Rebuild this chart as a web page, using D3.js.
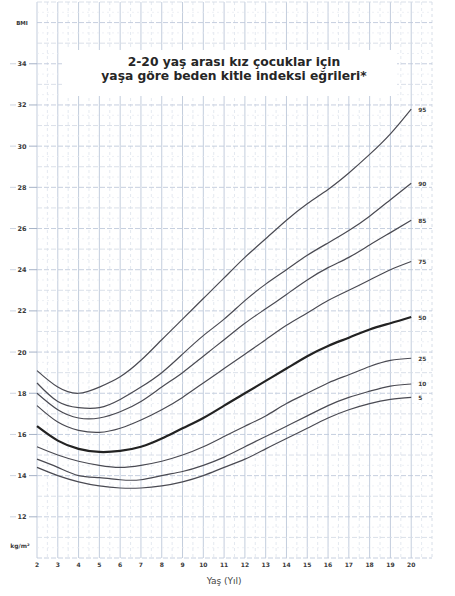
<!DOCTYPE html>
<html>
<head>
<meta charset="utf-8">
<script src="https://cdn.jsdelivr.net/npm/d3@7"></script>
<style>
  body { margin: 0; background: #fff; }
  svg { display: block; font-family: "DejaVu Sans", sans-serif; }
</style>
</head>
<body>
<div id="chart"></div>
<script>
// ages (yil) and BMI percentiles
var ages = [2,3,4,5,6,7,8,9,10,11,12,13,14,15,16,17,18,19,20];
var p5  = [14.4,14.0,13.7,13.5,13.4,13.4,13.5,13.7,14.0,14.4,14.8,15.3,15.8,16.3,16.8,17.2,17.5,17.7,17.8];
var p10 = [14.8,14.4,14.0,13.9,13.8,13.8,14.0,14.2,14.5,14.9,15.4,15.9,16.4,16.9,17.4,17.8,18.1,18.35,18.45];
var p25 = [15.4,15.0,14.7,14.5,14.4,14.5,14.7,15.0,15.4,15.9,16.4,16.9,17.5,18.0,18.5,18.9,19.3,19.6,19.7];
var p50 = [16.4,15.7,15.3,15.15,15.2,15.4,15.8,16.3,16.8,17.4,18.0,18.6,19.2,19.8,20.3,20.7,21.1,21.4,21.7];
var p75 = [17.4,16.6,16.2,16.1,16.3,16.7,17.2,17.8,18.5,19.2,19.9,20.6,21.3,21.9,22.5,23.0,23.5,24.0,24.4];
var p85 = [18.0,17.2,16.8,16.8,17.1,17.6,18.3,19.0,19.8,20.6,21.4,22.1,22.8,23.5,24.1,24.6,25.2,25.8,26.4];
var p90 = [18.5,17.6,17.3,17.3,17.7,18.3,19.0,19.9,20.8,21.6,22.5,23.3,24.0,24.7,25.3,25.9,26.6,27.4,28.2];
var p95 = [19.1,18.3,18.0,18.3,18.8,19.6,20.6,21.6,22.6,23.6,24.6,25.5,26.4,27.2,27.9,28.7,29.6,30.6,31.8];
var percentiles = ["95","90","85","75","50","25","10","5"];
var series = [p95, p90, p85, p75, p50, p25, p10, p5];
var yTicks = [12,14,16,18,20,22,24,26,28,30,32,34];
var titleLines = ["2-20 yaş arası kız çocuklar için", "yaşa göre beden kitle indeksi eğrileri*"];

var w = 455, h = 596;
var svg = d3.select("#chart").append("svg").attr("width", w).attr("height", h);

var x = d3.scaleLinear().domain([2, 21]).range([37, 432]);
var y = d3.scaleLinear().domain([10, 37]).range([558, 2]);

var grid = svg.append("g");
// vertical grid
grid.selectAll(".vh").data(d3.range(2.5, 21, 1)).enter().append("line")
    .attr("x1", d => x(d)).attr("x2", d => x(d)).attr("y1", y(37)).attr("y2", y(10))
    .attr("stroke", "#dde3ec").attr("stroke-width", 0.8).attr("stroke-dasharray", "3,3");
grid.selectAll(".vy").data(d3.range(2, 22, 1)).enter().append("line")
    .attr("x1", d => x(d)).attr("x2", d => x(d)).attr("y1", y(37)).attr("y2", y(10))
    .attr("stroke", d => d == 21 ? "#d3dae5" : "#bcc7d9").attr("stroke-width", 0.9)
    .attr("stroke-dasharray", d => d == 21 ? "3,3" : null);
// horizontal grid
grid.selectAll(".hh").data(d3.range(10.5, 37, 1)).enter().append("line")
    .attr("x1", x(2)).attr("x2", x(21)).attr("y1", d => y(d)).attr("y2", d => y(d))
    .attr("stroke", "#e5e9f0").attr("stroke-width", 0.7).attr("stroke-dasharray", "2,3");
grid.selectAll(".hy").data(d3.range(10, 38, 1)).enter().append("line")
    .attr("x1", x(2)).attr("x2", x(21)).attr("y1", d => y(d)).attr("y2", d => y(d))
    .attr("stroke", d => d % 2 == 0 ? "#c0cadb" : "#d6dce7").attr("stroke-width", 0.9)
    .attr("stroke-dasharray", "5,2");

// white box behind title
svg.append("rect").attr("x", 62).attr("y", 50).attr("width", 335).attr("height", 46).attr("fill", "#fff");
svg.selectAll(".title").data(titleLines).enter().append("text")
    .attr("x", 234).attr("y", (d, i) => 66 + i * 14)
    .attr("text-anchor", "middle").attr("font-size", 12.3).attr("font-weight", "bold")
    .attr("fill", "#262626").text(d => d);

// y axis labels with small ticks
var yAx = svg.append("g");
yAx.selectAll("line").data(yTicks).enter().append("line")
    .attr("x1", 10).attr("x2", 16).attr("y1", d => y(d)).attr("y2", d => y(d))
    .attr("stroke", "#cdd5e2");
yAx.selectAll("line.r").data(yTicks).enter().append("line")
    .attr("x1", 29).attr("x2", 37).attr("y1", d => y(d)).attr("y2", d => y(d))
    .attr("stroke", "#a5b2c7");
yAx.selectAll("text").data(yTicks).enter().append("text")
    .attr("x", 22).attr("y", d => y(d) + 2.5).attr("text-anchor", "middle")
    .attr("font-size", 6.5).attr("font-weight", "bold").attr("fill", "#3a3a3a").text(d => d);
svg.append("text").attr("x", 22).attr("y", y(36) + 2.5).attr("text-anchor", "middle")
    .attr("font-size", 5.5).attr("font-weight", "bold").attr("fill", "#3a3a3a").text("BMI");
svg.append("text").attr("x", 20).attr("y", 548).attr("text-anchor", "middle")
    .attr("font-size", 6).attr("font-weight", "bold").attr("fill", "#3a3a3a").text("kg/m²");

// x axis labels
svg.selectAll(".xl").data(ages).enter().append("text")
    .attr("x", d => x(d)).attr("y", 567).attr("text-anchor", "middle")
    .attr("font-size", 6).attr("font-weight", "bold").attr("fill", "#3a3a3a").text(d => d);
svg.append("text").attr("x", x(11)).attr("y", 584).attr("text-anchor", "middle")
    .attr("font-size", 9).attr("fill", "#444").text("Yaş (Yıl)");

// percentile curves
var line = d3.line().x((d, i) => x(ages[i])).y(d => y(d)).curve(d3.curveNatural);
svg.selectAll(".curve").data(series).enter().append("path")
    .attr("d", d => line(d)).attr("fill", "none")
    .attr("stroke", (d, i) => percentiles[i] == "50" ? "#222" : "#4a4a52")
    .attr("stroke-width", (d, i) => percentiles[i] == "50" ? 2.2 : 1.2);

svg.selectAll(".plab").data(series).enter().append("text")
    .attr("x", x(20) + 7).attr("y", d => y(d[d.length - 1]) + 2.5)
    .attr("font-size", 5.8).attr("font-weight", "bold").attr("fill", "#3a3a3a")
    .text((d, i) => percentiles[i]);
</script>
</body>
</html>
